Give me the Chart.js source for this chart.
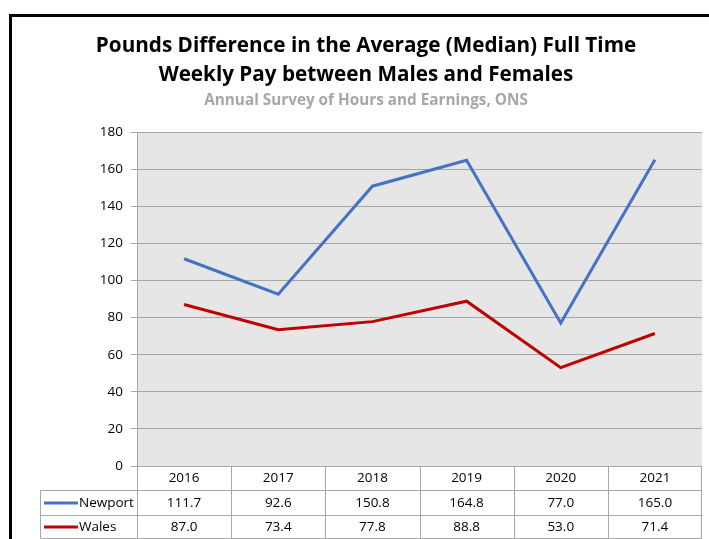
<!DOCTYPE html>
<html>
<head>
<meta charset="utf-8">
<script src="https://cdn.jsdelivr.net/npm/chart.js@4"></script>
<style>
  html, body { margin: 0; padding: 0; background: #fff; }
  #wrap { width: 709px; height: 539px; }
</style>
</head>
<body>
<div id="wrap"><canvas id="payChart" width="709" height="539"></canvas></div>
<script>
// Data
const years = ['2016', '2017', '2018', '2019', '2020', '2021'];
const newport = [111.7, 92.6, 150.8, 164.8, 77.0, 165.0];
const wales = [87.0, 73.4, 77.8, 88.8, 53.0, 71.4];
const seriesNames = ['Newport', 'Wales'];

const titleLines = ['Pounds Difference in the Average (Median) Full Time', 'Weekly Pay between Males and Females'];
const subTitle = 'Annual Survey of Hours and Earnings, ONS';

const gridGrey = '#a6a6a6';
const tableFont = '13.5px "Open Sans", sans-serif';

// Frame, title and plot background
const framePlugin = {
    id: 'frame',
    beforeDraw(chart) {
        const { ctx, chartArea } = chart;
        ctx.save();
        ctx.fillStyle = '#e6e6e6';
        ctx.fillRect(chartArea.left, chartArea.top, chartArea.right - chartArea.left, chartArea.bottom - chartArea.top);
        ctx.restore();
    },
    afterDraw(chart) {
        const { ctx } = chart;
        ctx.save();
        // outer border
        ctx.strokeStyle = '#000';
        ctx.lineWidth = 3;
        ctx.strokeRect(10.5, 15.5, 760, 600);
        // titles
        ctx.fillStyle = '#000';
        ctx.textAlign = 'center';
        ctx.textBaseline = 'middle';
        ctx.font = 'bold 20.7px "Open Sans", sans-serif';
        ctx.fillText(titleLines[0], 366, 46);
        ctx.fillText(titleLines[1], 366, 75);
        ctx.fillStyle = '#a6a6a6';
        ctx.font = 'bold 15.3px "Open Sans", sans-serif';
        ctx.fillText(subTitle, 366, 101);
        ctx.restore();
    }
};

// Data table under the plot
const tablePlugin = {
    id: 'dataTable',
    afterDraw(chart) {
        const { ctx, chartArea } = chart;
        const xs = chart.scales.x;
        const right = Math.round(xs.right) - 0.5;
        const step = (xs.right - xs.left) / years.length;
        const legendLeft = 40.5;
        const rows = [Math.round(chartArea.bottom) + 0.5, 490.5, 515.5, 538.5];

        ctx.save();
        ctx.strokeStyle = gridGrey;
        ctx.lineWidth = 1;
        ctx.beginPath();
        // horizontal lines
        ctx.moveTo(legendLeft, rows[1]); ctx.lineTo(right, rows[1]);
        ctx.moveTo(legendLeft, rows[2]); ctx.lineTo(right, rows[2]);
        ctx.moveTo(legendLeft, rows[3]); ctx.lineTo(right, rows[3]);
        // vertical lines
        ctx.moveTo(legendLeft, rows[1]); ctx.lineTo(legendLeft, rows[3]);
        for (let i = 0; i <= years.length; i++) {
            const x = i === years.length ? right : Math.round(xs.left + step * i) + 0.5;
            ctx.moveTo(x, rows[0]); ctx.lineTo(x, rows[3]);
        }
        ctx.stroke();

        ctx.font = tableFont;
        ctx.fillStyle = '#000';
        ctx.textAlign = 'center';
        ctx.textBaseline = 'middle';
        const rowMid = [(rows[0] + rows[1]) / 2, (rows[1] + rows[2]) / 2, (rows[2] + rows[3]) / 2];
        years.forEach((y, i) => {
            const cx = xs.getPixelForValue(i);
            ctx.fillText(y, cx, rowMid[0]);
            ctx.fillText(newport[i].toFixed(1), cx, rowMid[1]);
            ctx.fillText(wales[i].toFixed(1), cx, rowMid[2]);
        });

        // legend keys
        chart.data.datasets.forEach((ds, k) => {
            const my = rowMid[k + 1];
            ctx.strokeStyle = ds.borderColor;
            ctx.lineWidth = 3;
            ctx.beginPath();
            ctx.moveTo(44, my);
            ctx.lineTo(78, my);
            ctx.stroke();
            ctx.textAlign = 'left';
            ctx.fillStyle = '#000';
            ctx.fillText(seriesNames[k], 79, my);
        });
        ctx.restore();
    }
};

const ctx = document.getElementById('payChart').getContext('2d');
new Chart(ctx, {
    type: 'line',
    data: {
        labels: years,
        datasets: [
            {
                label: seriesNames[0],
                data: newport,
                borderColor: '#4472c4',
                borderWidth: 3,
                pointRadius: 0,
                tension: 0,
                fill: false
            },
            {
                label: seriesNames[1],
                data: wales,
                borderColor: '#c00000',
                borderWidth: 3,
                pointRadius: 0,
                tension: 0,
                fill: false
            }
        ]
    },
    options: {
        responsive: false,
        animation: false,
        devicePixelRatio: 1,
        layout: {
            padding: { top: 132, bottom: 73, right: 7, left: 0 }
        },
        plugins: {
            legend: { display: false },
            title: { display: false },
            tooltip: { enabled: false }
        },
        scales: {
            x: {
                display: false,
                offset: true
            },
            y: {
                min: 0,
                max: 180,
                afterFit(scale) { scale.width = 137; },
                ticks: {
                    stepSize: 20,
                    padding: 8,
                    color: '#000',
                    font: { family: '"Open Sans", sans-serif', size: 13.5 }
                },
                grid: {
                    color: gridGrey,
                    lineWidth: 1,
                    drawTicks: true,
                    tickLength: 6
                },
                border: { color: gridGrey, width: 1 }
            }
        }
    },
    plugins: [framePlugin, tablePlugin]
});
</script>
</body>
</html>
